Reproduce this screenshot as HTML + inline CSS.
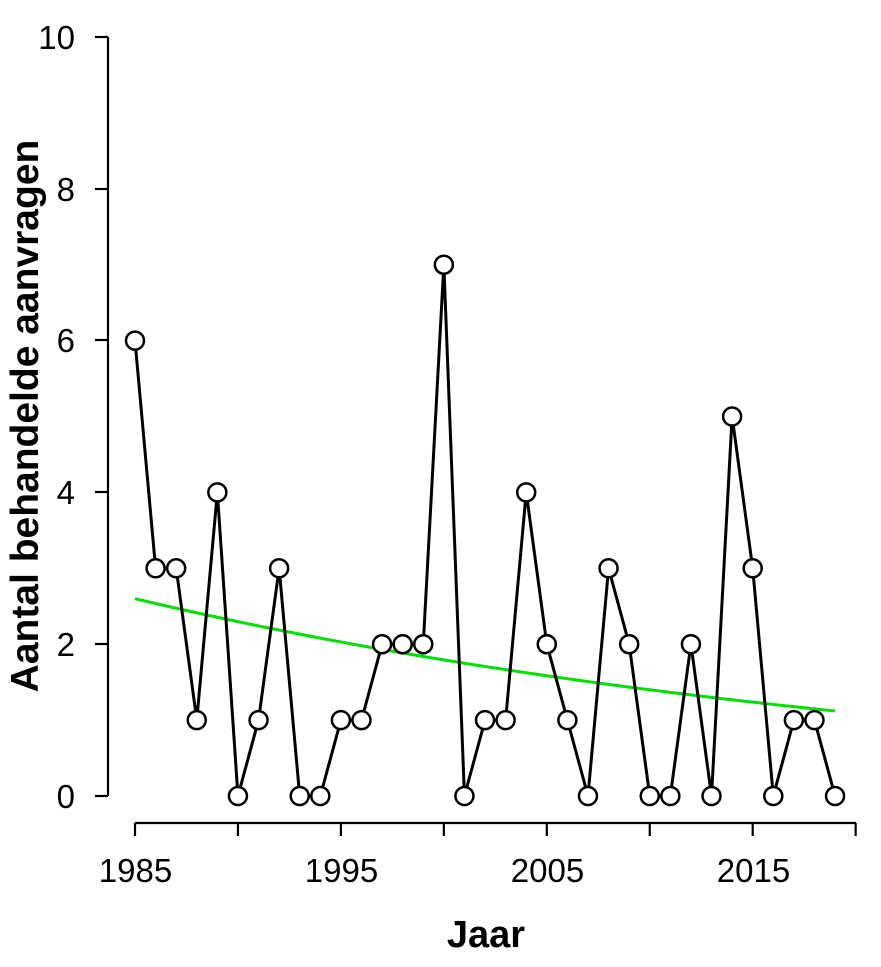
<!DOCTYPE html>
<html><head><meta charset="utf-8"><style>
html,body{margin:0;padding:0;background:#fff;width:881px;height:967px;overflow:hidden}
svg text{font-family:"Liberation Sans",Arial,sans-serif;fill:#000}
</style></head><body>
<svg id="s" width="881" height="967" viewBox="0 0 881 967" xmlns="http://www.w3.org/2000/svg">
<g stroke="#000" stroke-width="2.2" fill="none">
<line x1="108" y1="37" x2="108" y2="796"/>
<line x1="95" y1="796" x2="108" y2="796"/>
<line x1="95" y1="644" x2="108" y2="644"/>
<line x1="95" y1="492" x2="108" y2="492"/>
<line x1="95" y1="340" x2="108" y2="340"/>
<line x1="95" y1="189" x2="108" y2="189"/>
<line x1="95" y1="37" x2="108" y2="37"/>
<line x1="135" y1="823" x2="856" y2="823"/>
</g>
<g font-size="33" text-anchor="end">
<text x="75" y="808">0</text><text x="75" y="656">2</text><text x="75" y="504">4</text>
<text x="75" y="352">6</text><text x="75" y="201">8</text><text x="75" y="49">10</text>
</g>
<g font-size="33" text-anchor="middle">
<text x="135.5" y="882">1985</text><text x="341.5" y="882">1995</text>
<text x="547.5" y="882">2005</text><text x="753.5" y="882">2015</text>
</g>
<text x="486" y="947" font-size="38" font-weight="bold" text-anchor="middle">Jaar</text>
<text transform="translate(38,416) rotate(-90)" font-size="39" font-weight="bold" text-anchor="middle">Aantal behandelde aanvragen</text>
<g id="ticks" stroke="#000" stroke-width="2.2"></g>
<polyline id="fit" fill="none" stroke="#00e000" stroke-width="3"/>
<polyline id="ln" fill="none" stroke="#000" stroke-width="3"/>
<g id="pts" fill="#fff" stroke="#000" stroke-width="2.5"></g>
</svg>
<script>
var d=[6,3,3,1,4,0,1,3,0,0,1,1,2,2,2,7,0,1,1,4,2,1,0,3,2,0,0,2,0,5,3,0,1,1,0];
function X(i){return 135+i*20.59}function Y(v){return 796-v*75.9}
var ns="http://www.w3.org/2000/svg",p=[],f=[];
for(var i=0;i<d.length;i++){p.push(X(i)+","+Y(d[i]));
var c=document.createElementNS(ns,"circle");c.setAttribute("cx",X(i));c.setAttribute("cy",Y(d[i]));c.setAttribute("r",9);document.getElementById("pts").appendChild(c);}
document.getElementById("ln").setAttribute("points",p.join(" "));
for(var t=0;t<=34;t+=0.5){var v=2.6*Math.pow(1.12/2.6,t/34);f.push(X(t)+","+Y(v));}
document.getElementById("fit").setAttribute("points",f.join(" "));
for(var k=0;k<8;k++){var l=document.createElementNS(ns,"line");var x=X(k*5);l.setAttribute("x1",x);l.setAttribute("x2",x);l.setAttribute("y1",823);l.setAttribute("y2",836);document.getElementById("ticks").appendChild(l);}
</script>
</body></html>
